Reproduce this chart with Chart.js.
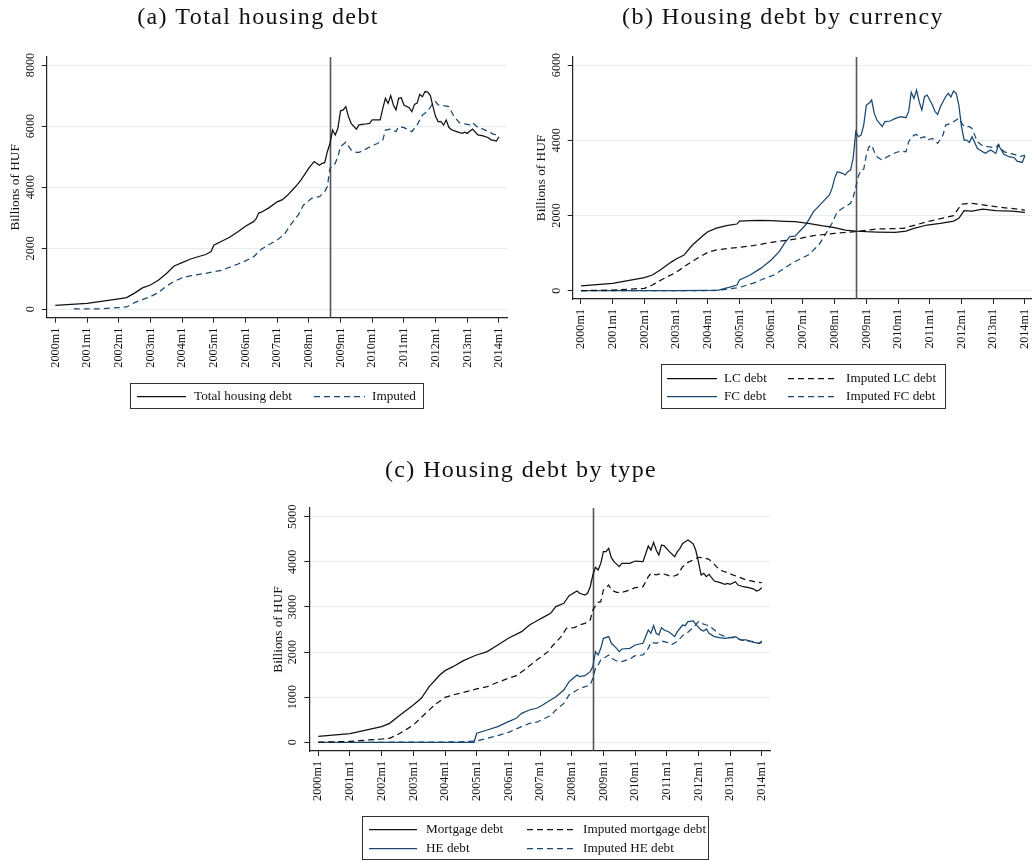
<!DOCTYPE html>
<html>
<head>
<meta charset="utf-8">
<script src="https://cdn.jsdelivr.net/npm/chart.js@4.4.1/dist/chart.umd.min.js"></script>
<style>
  html, body { margin: 0; padding: 0; background: #fff; }
  body { width: 1032px; height: 860px; position: relative; overflow: hidden; }
  .panel { position: absolute; }
  .panel canvas { display: block; }
</style>
</head>
<body>
<div class="panel" style="left:0;top:0;"><canvas id="chartA" width="515" height="420"></canvas></div>
<div class="panel" style="left:515px;top:0;"><canvas id="chartB" width="517" height="420"></canvas></div>
<div class="panel" style="left:260px;top:440px;"><canvas id="chartC" width="520" height="420"></canvas></div>
<script>
// Month index 0 = 2000m1; one labelled tick per January
const yearTicks = [0, 12, 24, 36, 48, 60, 72, 84, 96, 108, 120, 132, 144, 156, 168];
const yearLabels = ['2000m1', '2001m1', '2002m1', '2003m1', '2004m1', '2005m1', '2006m1', '2007m1',
                    '2008m1', '2009m1', '2010m1', '2011m1', '2012m1', '2013m1', '2014m1'];
const crisisMonth = 104; // 2008m9

// (a) Total housing debt, billions of HUF
const totalMonths = [0, 12, 24, 27, 30, 33, 36, 39, 42, 45, 48, 51, 54, 57, 59, 60, 63, 66, 69, 72, 75, 76, 77, 78, 81, 84,
  86, 88, 91, 93, 96, 98, 100, 101, 102, 103, 104, 105, 106, 107, 108, 109, 110, 111, 112, 114, 115, 117, 119, 120, 123,
  124, 125, 126, 127, 128, 129, 130, 131, 132, 134, 135, 136, 137, 138, 139, 140, 141, 142, 143, 144, 145, 146, 147, 148,
  149, 150, 152, 154, 155, 156, 157, 158, 160, 162, 164, 165, 166, 167, 168];
const totalDebt = [130, 195, 345, 383, 530, 700, 795, 950, 1165, 1420, 1530, 1640, 1720, 1795, 1890, 2100, 2230, 2360, 2530,
  2720, 2870, 2960, 3150, 3180, 3330, 3520, 3590, 3740, 4020, 4230, 4620, 4840, 4720, 4780, 4800, 5160, 5430, 5870, 5710,
  5930, 6500, 6530, 6640, 6310, 6090, 5900, 6040, 6060, 6090, 6200, 6200, 6580, 6910, 6740, 7000, 6690, 6530, 6910, 6930,
  6690, 6600, 6470, 6710, 6750, 7040, 6960, 7130, 7110, 7000, 6640, 6310, 6140, 6150, 6030, 6200, 5960, 5880, 5820, 5760,
  5800, 5760, 5840, 5900, 5710, 5680, 5620, 5550, 5530, 5510, 5650];
const imputedMonths = [7, 12, 18, 24, 27, 30, 33, 36, 39, 42, 45, 48, 51, 54, 57, 60, 63, 66, 69, 72, 75, 78, 81, 84, 87, 89,
  92, 94, 97, 100, 102, 103, 104, 106, 107, 108, 110, 112, 114, 115, 117, 120, 122, 124, 125, 127, 129, 130, 132, 134, 135,
  137, 139, 141, 143, 144, 145, 147, 149, 151, 153, 155, 157, 158, 160, 162, 164, 166, 168];
const imputedDebt = [10, 10, 20, 55, 77, 220, 317, 415, 546, 754, 918, 1027, 1093, 1137, 1180, 1235, 1279, 1377, 1475, 1585,
  1716, 1967, 2120, 2265, 2490, 2760, 3090, 3415, 3630, 3690, 3850, 4020, 4620, 4780, 5000, 5330, 5470, 5220, 5140, 5140,
  5220, 5360, 5430, 5540, 5870, 5900, 5820, 5980, 5950, 5870, 5820, 6040, 6360, 6490, 6750, 6800, 6690, 6670, 6640, 6310,
  6110, 6070, 6040, 6110, 5950, 5900, 5820, 5730, 5710];

// (b) Housing debt by currency
const lcMonths = [0, 12, 24, 27, 30, 34, 36, 39, 42, 46, 48, 51, 55, 59, 60, 64, 68, 72, 77, 81, 86, 91, 96, 100, 104, 108,
  112, 119, 123, 126, 131, 136, 141, 143, 145, 148, 152, 157, 163, 168];
const lcDebt = [130, 195, 345, 416, 549, 753, 842, 948, 1200, 1453, 1568, 1657, 1728, 1772, 1852, 1861, 1870, 1861, 1843,
  1834, 1790, 1728, 1675, 1613, 1586, 1568, 1560, 1551, 1586, 1657, 1746, 1790, 1852, 1923, 2127, 2118, 2171, 2127, 2118,
  2083];
const lcImpMonths = [0, 12, 24, 27, 31, 36, 40, 44, 48, 51, 56, 60, 65, 72, 78, 83, 88, 96, 104, 112, 122, 131, 141, 144, 148,
  157, 168];
const lcImpDebt = [0, 18, 62, 150, 310, 487, 682, 860, 1019, 1081, 1125, 1152, 1196, 1285, 1338, 1391, 1462, 1524, 1568,
  1639, 1657, 1834, 1994, 2304, 2321, 2233, 2144];
const fcMonths = [0, 12, 24, 36, 48, 52, 56, 59, 60, 64, 68, 72, 75, 77, 79, 81, 85, 88, 91, 94, 95, 96, 97, 99, 100, 101,
  102, 103, 104, 105, 106, 107, 108, 109, 110, 111, 112, 114, 115, 117, 119, 121, 123, 124, 125, 126, 127, 128, 129, 130,
  131, 133, 134, 135, 136, 138, 139, 140, 141, 142, 143, 144, 145, 146, 147, 148, 150, 152, 153, 155, 157, 158, 160, 162,
  164, 165, 167, 168];
const fcDebt = [0, 0, 0, 0, 5, 18, 89, 150, 284, 416, 593, 815, 1037, 1258, 1435, 1450, 1746, 2101, 2322, 2544, 2720, 2987,
  3164, 3120, 3076, 3164, 3208, 3518, 4227, 4094, 4138, 4404, 4935, 4980, 5068, 4714, 4537, 4360, 4493, 4511, 4582, 4626,
  4599, 4759, 5273, 5113, 5335, 5024, 4802, 5157, 5201, 4935, 4759, 4688, 4892, 5157, 5246, 5150, 5308, 5246, 4935, 4360,
  4005, 4005, 3943, 4094, 3784, 3695, 3651, 3740, 3651, 3873, 3624, 3562, 3535, 3446, 3411, 3588];
const fcImpMonths = [0, 24, 48, 52, 56, 60, 65, 69, 73, 77, 80, 86, 90, 92, 95, 97, 100, 102, 103, 104, 105, 106, 107, 108,
  109, 110, 111, 112, 114, 116, 119, 121, 123, 124, 126, 127, 128, 130, 131, 133, 135, 137, 138, 140, 142, 143, 145, 147,
  148, 150, 152, 154, 157, 158, 160, 162, 164, 166, 168];
const fcImpDebt = [0, 0, 0, 10, 45, 89, 195, 310, 417, 594, 740, 949, 1215, 1436, 1791, 2101, 2234, 2323, 2480, 2760, 3050,
  3208, 3226, 3607, 3828, 3872, 3695, 3562, 3473, 3562, 3668, 3712, 3695, 3961, 4138, 4156, 4049, 4094, 4005, 4049, 3917,
  4138, 4404, 4448, 4537, 4582, 4360, 4360, 4316, 3961, 3854, 3828, 3801, 3890, 3695, 3651, 3624, 3562, 3607];

// (c) Housing debt by type
const mortMonths = [0, 12, 24, 27, 31, 36, 39, 42, 46, 48, 51, 55, 59, 60, 64, 68, 72, 77, 80, 83, 85, 88, 90, 93, 95, 98, 99,
  101, 102, 103, 104, 105, 106, 107, 108, 109, 110, 111, 112, 114, 115, 118, 120, 123, 125, 126, 127, 128, 129, 130, 131,
  133, 135, 136, 137, 138, 139, 140, 141, 142, 143, 144, 145, 146, 147, 148, 150, 152, 154, 155, 156, 158, 159, 161, 163,
  165, 166, 167, 168];
const mortDebt = [132, 191, 346, 420, 605, 827, 975, 1233, 1492, 1588, 1676, 1809, 1913, 1935, 2009, 2157, 2305, 2453, 2600,
  2700, 2763, 2859, 3007, 3080, 3250, 3354, 3302, 3265, 3302, 3448, 3707, 3877, 3818, 3966, 4225, 4225, 4298, 4092, 4003,
  3892, 3966, 3966, 4018, 4003, 4350, 4261, 4431, 4261, 4151, 4372, 4357, 4225, 4114, 4225, 4298, 4409, 4446, 4483, 4446,
  4400, 4250, 4000, 3707, 3744, 3670, 3722, 3574, 3544, 3500, 3522, 3500, 3559, 3485, 3448, 3426, 3397, 3352, 3374, 3426];
const mortImpMonths = [0, 12, 24, 27, 31, 36, 40, 44, 48, 51, 55, 60, 64, 68, 72, 75, 78, 83, 87, 89, 92, 94, 97, 99, 101,
  103, 104, 106, 107, 108, 110, 111, 113, 115, 118, 120, 123, 125, 126, 128, 130, 132, 134, 136, 138, 140, 142, 144, 146,
  148, 150, 152, 155, 157, 159, 162, 164, 166, 168];
const mortImpDebt = [0, 21, 73, 88, 199, 384, 606, 827, 995, 1049, 1108, 1182, 1234, 1330, 1418, 1477, 1603, 1835, 2009,
  2157, 2342, 2527, 2541, 2600, 2637, 2711, 2933, 3102, 3117, 3376, 3486, 3376, 3324, 3324, 3376, 3428, 3450, 3672, 3746,
  3709, 3746, 3709, 3672, 3709, 3893, 3989, 4041, 4100, 4092, 4055, 3944, 3818, 3759, 3709, 3672, 3598, 3576, 3546, 3539];
const heMonths = [0, 24, 48, 59, 60, 64, 68, 72, 75, 77, 80, 83, 85, 88, 90, 93, 95, 98, 99, 101, 103, 104, 105, 106, 107,
  108, 110, 111, 113, 114, 115, 118, 120, 123, 125, 126, 127, 128, 129, 130, 131, 133, 135, 136, 138, 139, 140, 142, 143,
  145, 146, 147, 148, 150, 152, 154, 156, 158, 160, 162, 165, 167, 168];
const heDebt = [0, 0, 0, 0, 200, 272, 346, 457, 531, 642, 716, 760, 826, 937, 1011, 1159, 1344, 1492, 1455, 1477, 1566, 1677,
  2009, 1935, 2083, 2305, 2342, 2194, 2083, 2009, 2068, 2083, 2157, 2194, 2490, 2416, 2585, 2416, 2379, 2541, 2490, 2438,
  2342, 2453, 2600, 2585, 2674, 2689, 2615, 2490, 2467, 2512, 2416, 2342, 2320, 2305, 2320, 2342, 2268, 2268, 2216, 2194,
  2246];
const heImpMonths = [0, 24, 48, 56, 60, 64, 68, 72, 77, 80, 83, 85, 88, 90, 93, 95, 98, 100, 103, 104, 105, 106, 107, 109,
  110, 111, 113, 115, 118, 120, 123, 125, 126, 128, 130, 132, 134, 136, 138, 140, 142, 144, 145, 147, 148, 150, 152, 154,
  156, 158, 160, 162, 165, 167, 168];
const heImpDebt = [0, 0, 5, 15, 29, 88, 147, 221, 347, 420, 450, 510, 590, 716, 863, 1048, 1159, 1211, 1270, 1418, 1640, 1714,
  1825, 1898, 1935, 1862, 1803, 1788, 1847, 1921, 1935, 2083, 2216, 2194, 2246, 2216, 2172, 2231, 2364, 2438, 2541, 2674,
  2637, 2600, 2585, 2490, 2394, 2342, 2320, 2320, 2268, 2246, 2231, 2194, 2216];

// ---- styling ----
const INK = '#111111';
const NAVY = '#1a476f';
const GRID = '#e6eef2';
const AXIS = '#222222';
const DASH = [6, 4];
const SERIF = '"Liberation Serif", "Times New Roman", serif';

function pts(months, values) {
  return months.map((m, i) => ({ x: m, y: values[i] }));
}

function series(label, months, values, color, dashed) {
  return {
    label: label,
    data: pts(months, values),
    borderColor: color,
    backgroundColor: color,
    borderWidth: 1.25,
    borderDash: dashed ? DASH : [],
    pointRadius: 0,
    pointHoverRadius: 0,
    tension: 0,
    fill: false,
    spanGaps: true
  };
}

function rotatedText(ctx, text, x, y, align) {
  ctx.save();
  ctx.translate(x, y);
  ctx.rotate(-Math.PI / 2);
  ctx.textAlign = align;
  ctx.textBaseline = 'middle';
  ctx.fillText(text, 0, 0);
  ctx.restore();
}

// Draws the panel heading, axis labels, event marker and boxed legend
const stataDecor = {
  id: 'stataDecor',
  beforeDatasetsDraw(chart, args, opts) {
    const { ctx, chartArea, scales } = chart;
    const x = Math.round(scales.x.getPixelForValue(opts.eventX)) + 0.5;
    ctx.save();
    ctx.strokeStyle = '#555555';
    ctx.lineWidth = 1.6;
    ctx.beginPath();
    ctx.moveTo(x, chartArea.top);
    ctx.lineTo(x, chartArea.bottom);
    ctx.stroke();
    ctx.restore();
  },
  afterDraw(chart, args, opts) {
    const { ctx, chartArea, scales } = chart;
    ctx.save();
    ctx.fillStyle = INK;

    // heading, slightly tracked to give the wide roman look
    ctx.save();
    ctx.font = opts.titleFont;
    if ('letterSpacing' in ctx) ctx.letterSpacing = '1.4px';
    ctx.textAlign = 'center';
    ctx.textBaseline = 'alphabetic';
    ctx.fillText(opts.title, opts.titleX, opts.titleY);
    ctx.restore();

    // y axis title and tick labels
    ctx.font = '13.3px ' + SERIF;
    rotatedText(ctx, opts.yTitle, chartArea.left - 31, (chartArea.top + chartArea.bottom) / 2, 'center');
    ctx.font = '12.2px ' + SERIF;
    opts.yTicks.forEach(v => {
      rotatedText(ctx, String(v), chartArea.left - 16, scales.y.getPixelForValue(v), 'center');
    });

    // x tick labels, rotated
    yearTicks.forEach((m, i) => {
      rotatedText(ctx, yearLabels[i], scales.x.getPixelForValue(m), chartArea.bottom + 10, 'right');
    });

    // legend
    const lg = opts.legend;
    ctx.strokeStyle = '#333333';
    ctx.lineWidth = 1;
    ctx.strokeRect(lg.x + 0.5, lg.y + 0.5, lg.w, lg.h);
    ctx.font = '13.2px ' + SERIF;
    ctx.textAlign = 'left';
    ctx.textBaseline = 'middle';
    lg.items.forEach(it => {
      const ds = chart.data.datasets[it.index];
      ctx.save();
      ctx.strokeStyle = ds.borderColor;
      ctx.lineWidth = ds.borderWidth;
      ctx.setLineDash(ds.borderDash || []);
      ctx.beginPath();
      ctx.moveTo(it.x0, it.y + 0.5);
      ctx.lineTo(it.x1, it.y + 0.5);
      ctx.stroke();
      ctx.restore();
      ctx.fillStyle = INK;
      ctx.fillText(ds.label, it.tx, it.y + 1);
    });
    ctx.restore();
  }
};

function makePanel(canvasId, p) {
  return new Chart(document.getElementById(canvasId), {
    type: 'line',
    data: { datasets: p.datasets },
    plugins: [stataDecor],
    options: {
      responsive: false,
      animation: false,
      events: [],
      layout: { padding: p.padding },
      plugins: {
        legend: { display: false },
        tooltip: { enabled: false },
        title: { display: false },
        stataDecor: p.decor
      },
      scales: {
        x: {
          type: 'linear',
          min: p.xMin,
          max: p.xMax,
          afterBuildTicks: s => { s.ticks = yearTicks.map(v => ({ value: v })); },
          afterFit: s => { s.height = p.xHeight; },
          ticks: { display: false },
          grid: { drawOnChartArea: false, drawTicks: true, tickLength: 5, tickColor: AXIS, tickWidth: 1 },
          border: { display: true, color: AXIS, width: 1.2 }
        },
        y: {
          type: 'linear',
          min: p.yMin,
          max: p.yMax,
          afterBuildTicks: s => { s.ticks = p.decor.yTicks.map(v => ({ value: v })); },
          afterFit: s => { s.width = p.yWidth; },
          ticks: { display: false },
          grid: { color: GRID, lineWidth: 1, drawTicks: true, tickLength: 5, tickColor: AXIS, tickWidth: 1 },
          border: { display: true, color: AXIS, width: 1.2 }
        }
      }
    }
  });
}

const titleFont = '24px ' + SERIF;

makePanel('chartA', {
  padding: { left: 0, top: 57, right: 8, bottom: 62.3 },
  yWidth: 46.7, xHeight: 40,
  xMin: -3.26, xMax: 171.03, yMin: -275, yMax: 8262,
  datasets: [
    series('Total housing debt', totalMonths, totalDebt, INK, false),
    series('Imputed', imputedMonths, imputedDebt, NAVY, true)
  ],
  decor: {
    title: '(a) Total housing debt', titleFont: titleFont, titleX: 258, titleY: 24,
    yTitle: 'Billions of HUF', yTicks: [0, 2000, 4000, 6000, 8000], eventX: crisisMonth,
    legend: {
      x: 130, y: 383, w: 293, h: 25,
      items: [
        { index: 0, x0: 137, x1: 186, tx: 194, y: 396 },
        { index: 1, x0: 314, x1: 365, tx: 372, y: 396 }
      ]
    }
  }
});

makePanel('chartB', {
  padding: { left: 0, top: 57, right: 0.5, bottom: 81 },
  yWidth: 57.7, xHeight: 40,
  xMin: -3.14, xMax: 170.5, yMin: -221, yMax: 6213,
  datasets: [
    series('LC debt', lcMonths, lcDebt, INK, false),
    series('Imputed LC debt', lcImpMonths, lcImpDebt, INK, true),
    series('FC debt', fcMonths, fcDebt, NAVY, false),
    series('Imputed FC debt', fcImpMonths, fcImpDebt, NAVY, true)
  ],
  decor: {
    title: '(b) Housing debt by currency', titleFont: titleFont, titleX: 268, titleY: 24,
    yTitle: 'Billions of HUF', yTicks: [0, 2000, 4000, 6000], eventX: crisisMonth,
    legend: {
      x: 146, y: 364, w: 284, h: 44,
      items: [
        { index: 0, x0: 152, x1: 202, tx: 209, y: 378 },
        { index: 1, x0: 273, x1: 323, tx: 331, y: 378 },
        { index: 2, x0: 152, x1: 202, tx: 209, y: 396 },
        { index: 3, x0: 273, x1: 323, tx: 331, y: 396 }
      ]
    }
  }
});

makePanel('chartC', {
  padding: { left: 0, top: 68, right: 10, bottom: 69 },
  yWidth: 49.3, xHeight: 40,
  xMin: -3.41, xMax: 171.1, yMin: -193, yMax: 5193,
  datasets: [
    series('Mortgage debt', mortMonths, mortDebt, INK, false),
    series('Imputed mortgage debt', mortImpMonths, mortImpDebt, INK, true),
    series('HE debt', heMonths, heDebt, NAVY, false),
    series('Imputed HE debt', heImpMonths, heImpDebt, NAVY, true)
  ],
  decor: {
    title: '(c) Housing debt by type', titleFont: titleFont, titleX: 261, titleY: 36.7,
    yTitle: 'Billions of HUF', yTicks: [0, 1000, 2000, 3000, 4000, 5000], eventX: crisisMonth,
    legend: {
      x: 102, y: 376, w: 346, h: 43,
      items: [
        { index: 0, x0: 109, x1: 157, tx: 166, y: 389 },
        { index: 1, x0: 267, x1: 315, tx: 323, y: 389 },
        { index: 2, x0: 109, x1: 157, tx: 166, y: 408 },
        { index: 3, x0: 267, x1: 315, tx: 323, y: 408 }
      ]
    }
  }
});
</script>
</body>
</html>
